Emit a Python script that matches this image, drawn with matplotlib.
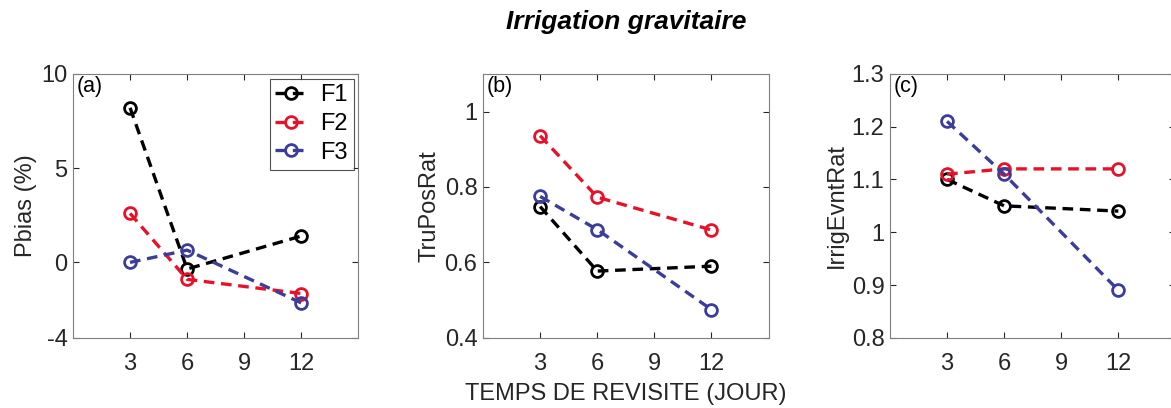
import matplotlib as mpl
mpl.use('Agg')
import matplotlib.pyplot as plt
import matplotlib.ticker as tick

plt.rcParams['font.family'] = ['Liberation Sans', 'DejaVu Sans']

# temps de revisite (jours)
revisit = [3, 6, 12]
series_names = ['F1', 'F2', 'F3']
series_colors = ['#000000', '#e8112a', '#3c3c9a']

# (a) Pbias (%)
pbias_f1 = [8.2, -0.35, 1.4]
pbias_f2 = [2.6, -0.9, -1.65]
pbias_f3 = [0.0, 0.65, -2.15]

# (b) TruPosRat
tpr_f1 = [0.748, 0.577, 0.590]
tpr_f2 = [0.936, 0.773, 0.686]
tpr_f3 = [0.775, 0.687, 0.475]

# (c) IrrigEvntRat
ier_f1 = [1.10, 1.05, 1.04]
ier_f2 = [1.11, 1.12, 1.12]
ier_f3 = [1.21, 1.11, 0.89]

panels = [
    ('(a)', 'Pbias (%)', [pbias_f1, pbias_f2, pbias_f3], (-4, 10), [-4, 0, 5, 10]),
    ('(b)', 'TruPosRat', [tpr_f1, tpr_f2, tpr_f3], (0.4, 1.1), [0.4, 0.6, 0.8, 1.0]),
    ('(c)', 'IrrigEvntRat', [ier_f1, ier_f2, ier_f3], (0.8, 1.3), [0.8, 0.9, 1.0, 1.1, 1.2, 1.3]),
]

fig = plt.figure(figsize=(11.71, 4.08), dpi=100)
lefts = [0.0623, 0.4125, 0.760]
txt_col = '#262626'

axes = []
for i, (tag, ylab, data, ylim, yticks) in enumerate(panels):
    ax = fig.add_axes([lefts[i], 0.172, 0.2438, 0.647])
    for vals, name, col in zip(data, series_names, series_colors):
        ax.plot(revisit, vals, linestyle=(0, (3.2, 2.0)), linewidth=2.4, color=col,
                marker='o', markersize=8.5, markerfacecolor='none',
                markeredgewidth=2.0, label=name)
    ax.set_xlim(0, 15)
    ax.set_ylim(*ylim)
    ax.set_xticks([3, 6, 9, 12])
    ax.set_yticks(yticks)
    ax.yaxis.set_major_formatter(tick.FuncFormatter(lambda v, p: '%g' % round(v, 2)))
    ax.tick_params(direction='in', top=True, right=True, length=4, width=0.8,
                   labelsize=17, colors=txt_col, labelcolor=txt_col)
    ax.tick_params(axis='x', pad=11)
    ax.tick_params(axis='y', pad=4)
    for sp in ax.spines.values():
        sp.set_color('#7f7f7f')
        sp.set_linewidth(0.8)
    ax.set_ylabel(ylab, fontsize=17, color=txt_col, labelpad=3)
    ax.text(0.012, 0.99, tag, transform=ax.transAxes, ha='left', va='top',
            fontsize=15.5, color='black')
    axes.append(ax)

leg = axes[0].legend(loc='upper right', fontsize=17, handlelength=1.3,
                     frameon=True, fancybox=False, borderpad=0.25,
                     labelspacing=0.28, handletextpad=0.6, borderaxespad=0.2)
leg.get_frame().set_edgecolor('#262626')
leg.get_frame().set_linewidth(0.8)

axes[1].set_xlabel('TEMPS DE REVISITE (JOUR)', fontsize=17, color=txt_col, labelpad=6)

fig.text(0.535, 0.946, 'Irrigation gravitaire', ha='center', va='center',
         fontsize=19, fontweight='bold', fontstyle='italic')

plt.savefig('out.png', dpi=100)
